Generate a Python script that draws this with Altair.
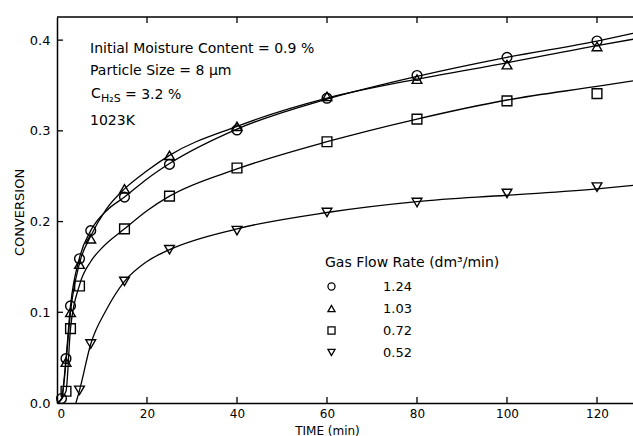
import altair as alt
import pandas as pd

# Gas flow rates (dm3/min) and their marker shapes
flow_rates = ["1.24", "1.03", "0.72", "0.52"]
marker_shapes = ["circle", "triangle-up", "square", "triangle-down"]

# Measured conversion vs. time (min)
t_124 = [1, 2, 3, 5, 7.5, 15, 25, 40, 60, 80, 100, 120]
x_124 = [0.005, 0.049, 0.107, 0.159, 0.190, 0.227, 0.263, 0.301, 0.336, 0.361, 0.381, 0.399]

t_103 = [2, 3, 5, 7.5, 15, 25, 40, 60, 80, 100, 120]
x_103 = [0.045, 0.100, 0.153, 0.181, 0.236, 0.273, 0.305, 0.338, 0.357, 0.373, 0.393]

t_072 = [2, 3, 5, 15, 25, 40, 60, 80, 100, 120]
x_072 = [0.013, 0.082, 0.129, 0.192, 0.228, 0.259, 0.288, 0.313, 0.333, 0.341]

t_052 = [5, 7.5, 15, 25, 40, 60, 80, 100, 120]
x_052 = [0.014, 0.065, 0.134, 0.169, 0.190, 0.210, 0.221, 0.231, 0.238]

# Smoothed fit curves through each data set
ct_124 = [0, 1, 2, 3, 5, 7.5, 11, 15, 20, 25, 40, 60, 80, 100, 120, 128]
cx_124 = [0, 0.005, 0.049, 0.107, 0.160, 0.190, 0.212, 0.227, 0.247, 0.264, 0.302, 0.335,
          0.360, 0.381, 0.399, 0.4075]

ct_103 = [0, 1, 2, 3, 5, 7.5, 11, 15, 20, 25, 40, 60, 80, 100, 120, 128]
cx_103 = [0, 0.004, 0.045, 0.100, 0.154, 0.184, 0.214, 0.236, 0.256, 0.273, 0.305, 0.336,
          0.357, 0.375, 0.394, 0.401]

ct_072 = [0, 2, 3, 5, 7.5, 10, 15, 20, 25, 40, 60, 80, 100, 120, 128]
cx_072 = [0, 0.013, 0.082, 0.130, 0.156, 0.171, 0.192, 0.212, 0.228, 0.258, 0.288, 0.313,
          0.334, 0.349, 0.355]

ct_052 = [4.2, 5, 7.5, 11, 15, 20, 25, 40, 60, 80, 100, 120, 128]
cx_052 = [0, 0.014, 0.065, 0.103, 0.134, 0.156, 0.169, 0.192, 0.210, 0.222, 0.229, 0.236, 0.240]

x_ticks = [0, 20, 40, 60, 80, 100, 120]
y_ticks = [0.0, 0.1, 0.2, 0.3, 0.4]

# Run conditions printed in the upper left
cond_moisture = "Initial Moisture Content = 0.9 %"
cond_size = "Particle Size = 8 µm"
cond_conc = "= 3.2 %"
cond_temp = "1023K"

FONT = "DejaVu Sans"
W, H = 576, 386

points = pd.concat([
    pd.DataFrame({"time": t, "conv": v, "rate": r})
    for t, v, r in zip([t_124, t_103, t_072, t_052], [x_124, x_103, x_072, x_052], flow_rates)
])
curves = pd.concat([
    pd.DataFrame({"time": t, "conv": v, "rate": r})
    for t, v, r in zip([ct_124, ct_103, ct_072, ct_052], [cx_124, cx_103, cx_072, cx_052], flow_rates)
])
one = pd.DataFrame({"k": [0]})

xs = alt.Scale(domain=[0, 128], nice=False, zero=False)
ys = alt.Scale(domain=[0, 0.4255], nice=False)

x_enc = alt.X("time:Q", scale=xs, axis=alt.Axis(
    values=x_ticks, ticks=False, grid=False, labelPadding=5, labelFontSize=12,
    labelFont=FONT, labelColor="black", domainColor="black", domainWidth=1.5,
    title="TIME (min)", titleFont=FONT, titleFontSize=12, titleFontWeight="normal",
    titleColor="black", titleX=270, titleY=27, titleBaseline="middle", titleAlign="center"))
y_enc = alt.Y("conv:Q", scale=ys, axis=alt.Axis(
    values=y_ticks, format=".1f", ticks=False, grid=False, labelPadding=7,
    labelFontSize=13, labelFont=FONT, labelColor="black", domainColor="black",
    domainWidth=1.5, title="CONVERSION", titleFont=FONT, titleFontSize=13,
    titleFontWeight="normal", titleColor="black", titleAngle=270, titleX=-38,
    titleY=195, titleBaseline="middle", titleAlign="center"))

lines = alt.Chart(curves).mark_line(
    interpolate="monotone", color="black", strokeWidth=1.3
).encode(x=x_enc, y=y_enc, detail="rate:N")

marks = alt.Chart(points).mark_point(
    filled=False, color="black", size=95, strokeWidth=1.4, opacity=1
).encode(
    x="time:Q", y="conv:Q",
    shape=alt.Shape("rate:N", scale=alt.Scale(domain=flow_rates, range=marker_shapes),
                    legend=alt.Legend(
                        orient="none", legendX=268, legendY=239,
                        title="Gas Flow Rate (dm³/min)", titleFont=FONT, titleFontSize=14,
                        titleFontWeight="normal", titleColor="black", titlePadding=10,
                        labelFont=FONT, labelFontSize=13, labelColor="black",
                        labelOffset=45, rowPadding=8, symbolSize=50,
                        symbolStrokeWidth=1.3, symbolStrokeColor="black",
                        symbolFillColor="white")),
)

# inward tick marks on bottom, top and left edges
tick_x = pd.DataFrame({"time": x_ticks[1:]})
tick_y = pd.DataFrame({"conv": y_ticks[1:]})
bottom_ticks = alt.Chart(tick_x).mark_rule(color="black", strokeWidth=1.3).encode(
    x="time:Q", y=alt.value(H), y2=alt.value(H - 6))
top_ticks = alt.Chart(tick_x).mark_rule(color="black", strokeWidth=1.3).encode(
    x="time:Q", y=alt.value(0), y2=alt.value(6))
left_ticks = alt.Chart(tick_y).mark_rule(color="black", strokeWidth=1.3).encode(
    y="conv:Q", x=alt.value(0), x2=alt.value(6))
top_frame = alt.Chart(one).mark_rule(color="black", strokeWidth=1.5).encode(
    x=alt.value(0), x2=alt.value(W), y=alt.value(0))

txt = dict(font=FONT, fontSize=14, color="black", align="left", baseline="middle")
note1 = alt.Chart(one).mark_text(text=cond_moisture, **txt).encode(
    x=alt.value(33), y=alt.value(32))
note2 = alt.Chart(one).mark_text(text=cond_size, **txt).encode(
    x=alt.value(33), y=alt.value(54))
note3a = alt.Chart(one).mark_text(text="C", **txt).encode(x=alt.value(34), y=alt.value(77))
note3b = alt.Chart(one).mark_text(text="H₂S", font=FONT, fontSize=11, color="black",
                                  align="left", baseline="middle").encode(
    x=alt.value(44), y=alt.value(82))
note3c = alt.Chart(one).mark_text(text=cond_conc, **txt).encode(x=alt.value(68), y=alt.value(78))
note4 = alt.Chart(one).mark_text(text=cond_temp, **txt).encode(x=alt.value(33), y=alt.value(104))

chart = alt.layer(
    lines, marks, bottom_ticks, top_ticks, left_ticks, top_frame,
    note1, note2, note3a, note3b, note3c, note4
).properties(
    width=W, height=H,
    autosize=alt.AutoSizeParams(type="none"),
    padding={"left": 57, "top": 17, "right": 0, "bottom": 33},
).configure_view(strokeWidth=0)

chart.save("out.html", embed_options={"renderer": "svg", "actions": False})
